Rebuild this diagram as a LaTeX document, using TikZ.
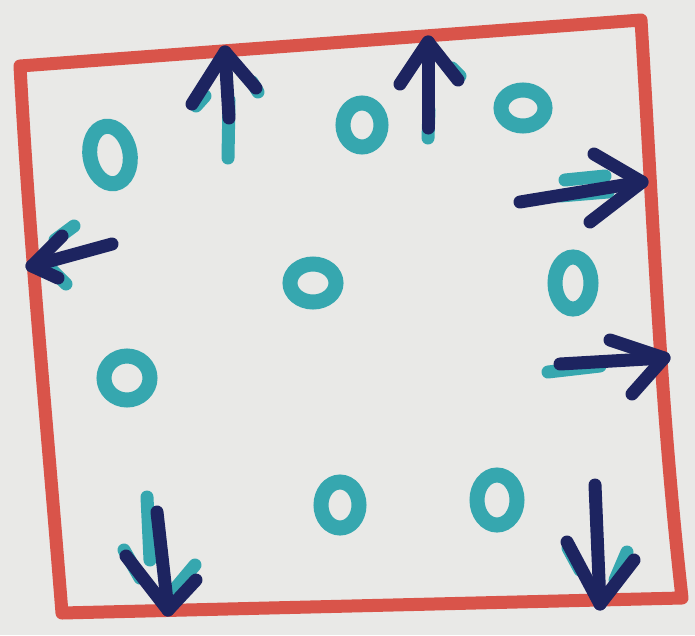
\documentclass[tikz,border=0pt]{standalone}
\usetikzlibrary{shapes.geometric}
\definecolor{paper}{HTML}{E9E9E7}
\definecolor{marker}{HTML}{D9544A}
\definecolor{tealink}{HTML}{36A7AF}
\definecolor{navyink}{HTML}{1D2460}
\tikzset{
  redline/.style={draw=marker, line width=13pt, line join=round, line cap=round},
  ring/.style={ellipse, draw=tealink, line width=15pt, inner sep=0pt},
  arrowink/.style={draw=navyink, line width=13pt, line cap=round, line join=round},
  underink/.style={draw=tealink, line width=13pt, line cap=round, line join=round},
}
\begin{document}
\begin{tikzpicture}[x=1pt,y=-1pt]
\fill[paper] (0,0) rectangle (695,635);
\useasboundingbox (0,0) rectangle (695,635);
% frame corners
\coordinate (tl) at (20,66);
\coordinate (tr) at (641,20);
\coordinate (br) at (682,598);
\coordinate (bl) at (62,613);
\draw[redline] (tl) -- (tr) .. controls (655,250) and (660,400) .. (br) -- (bl) .. controls (45,400) and (30,250) .. cycle;
% rings
\node[ring, minimum width=40pt, minimum height=58pt, rotate=10] (c1) at (110,155) {};
\node[ring, minimum width=38pt, minimum height=44pt] (c2) at (362,125) {};
\node[ring, minimum width=44pt, minimum height=36pt] (c3) at (523,108) {};
\node[ring, minimum width=46pt, minimum height=38pt] (c4) at (313,283) {};
\node[ring, minimum width=36pt, minimum height=52pt] (c5) at (573,283) {};
\node[ring, minimum width=46pt, minimum height=44pt] (c6) at (127,378) {};
\node[ring, minimum width=38pt, minimum height=46pt] (c7) at (340,505) {};
\node[ring, minimum width=40pt, minimum height=50pt] (c8) at (497,500) {};
% arrow 1 (up)
\coordinate (a1s) at (228,158); \coordinate (a1t) at (225,52);
\coordinate (a1l) at (192,104); \coordinate (a1r) at (256,88);
\draw[underink] (a1s) -- (229,100); \draw[underink] (196,106) -- (205,96); \draw[underink] (252,82) -- (258,92);
\draw[arrowink] (229,118) -- (a1t); \draw[arrowink] (a1l) -- (a1t) -- (a1r);
% arrow 2 (up)
\coordinate (a2s) at (428,138); \coordinate (a2t) at (428,42);
\coordinate (a2l) at (400,84); \coordinate (a2r) at (458,80);
\draw[underink] (a2s) -- (429,110); \draw[underink] (452,68) -- (460,76);
\draw[arrowink] (428,128) -- (a2t); \draw[arrowink] (a2l) -- (a2t) -- (a2r);
% arrow 3 (right)
\coordinate (a3s) at (520,202); \coordinate (a3t) at (642,182);
\coordinate (a3l) at (594,154); \coordinate (a3r) at (590,222);
\draw[underink] (565,180) -- (605,176); \draw[underink] (560,196) -- (608,192);
\draw[arrowink] (a3s) -- (a3t); \draw[arrowink] (a3l) -- (a3t) -- (a3r);
% arrow 4 (left)
\coordinate (a4s) at (112,244); \coordinate (a4t) at (32,266);
\coordinate (a4l) at (74,226); \coordinate (a4r) at (66,284);
\draw[underink] (a4l) -- (55,240); \draw[underink] (a4r) -- (50,268);
\draw[arrowink] (a4s) -- (a4t); \draw[arrowink] (62,236) -- (a4t) -- (58,278);
% arrow 5 (right)
\coordinate (a5s) at (548,372); \coordinate (a5t) at (664,358);
\coordinate (a5l) at (610,340); \coordinate (a5r) at (632,394);
\draw[underink] (a5s) -- (600,366);
\draw[arrowink] (560,364) -- (a5t); \draw[arrowink] (a5l) -- (a5t) -- (a5r);
% arrow 6 (down)
\coordinate (a6s) at (147,497); \coordinate (a6t) at (168,610);
\coordinate (a6l) at (124,550); \coordinate (a6r) at (196,578);
\draw[underink] (a6s) -- (150,560); \draw[underink] (174,590) -- (195,565); \draw[underink] (124,550) -- (140,578);
\draw[arrowink] (157,512) -- (a6t); \draw[arrowink] (126,556) -- (a6t) -- (196,580);
% arrow 7 (down)
\coordinate (a7s) at (595,485); \coordinate (a7t) at (600,604);
\coordinate (a7l) at (567,542); \coordinate (a7r) at (634,560);
\draw[underink] (627,552) -- (615,580); \draw[underink] (568,548) -- (580,570);
\draw[arrowink] (a7s) -- (a7t); \draw[arrowink] (a7l) -- (a7t) -- (a7r);
\end{tikzpicture}
\end{document}
